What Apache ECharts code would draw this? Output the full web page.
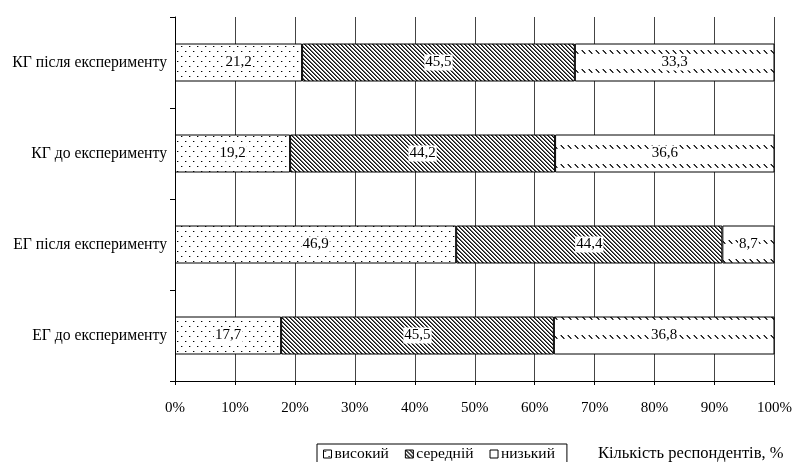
<!DOCTYPE html>
<html>
<head>
<meta charset="utf-8">
<script src="https://cdn.jsdelivr.net/npm/echarts@6/dist/echarts.min.js"></script>
<style>html,body{margin:0;padding:0;background:#fff}#c{width:795px;height:462px}</style>
</head>
<body>
<div id="c"></div>
<script>
const categories = ['ЕГ до експерименту', 'ЕГ після експерименту', 'КГ до експерименту', 'КГ після експерименту'];
const seriesNames = ['високий', 'середній', 'низький'];
const highValues = [17.7, 46.9, 19.2, 21.2];
const midValues = [45.5, 44.4, 44.2, 45.5];
const lowValues = [36.8, 8.7, 36.6, 33.3];
const xTicks = [0, 10, 20, 30, 40, 50, 60, 70, 80, 90, 100];
const axisTitle = 'Кількість респондентів, %';

function makeTile(w, h, draw) {
  const c = document.createElement('canvas');
  c.width = w; c.height = h;
  const ctx = c.getContext('2d');
  ctx.fillStyle = '#fff';
  ctx.fillRect(0, 0, w, h);
  draw(ctx);
  return { image: c, repeat: 'repeat' };
}
function px(ctx, x, y, col) { ctx.fillStyle = col; ctx.fillRect(x, y, 1, 1); }
const dotPattern = makeTile(8, 10, ctx => {
  px(ctx, 1, 1, '#000'); px(ctx, 2, 1, '#aaa');
  px(ctx, 5, 6, '#000'); px(ctx, 6, 6, '#aaa');
});
const stripePattern = makeTile(4, 4, ctx => {
  for (let y = 0; y < 4; y++) {
    px(ctx, y, y, '#111');
    px(ctx, (y + 1) % 4, y, '#666');
  }
});
const dashPattern = makeTile(7, 19, ctx => {
  const o = 12;
  [[0,0,'#888'],[1,0,'#222'],[1,1,'#444'],[2,1,'#222'],[2,2,'#444'],[3,2,'#222'],[3,3,'#444'],[4,3,'#777']]
    .forEach(p => px(ctx, p[0], o + p[1], p[2]));
});
const patterns = [dotPattern, stripePattern, dashPattern];
const valueSets = [highValues, midValues, lowValues];

const font = '"Liberation Serif", "Times New Roman", serif';
const chart = echarts.init(document.getElementById('c'), null, { renderer: 'canvas' });
chart.setOption({
  animation: false,
  backgroundColor: '#fff',
  textStyle: { fontFamily: font, color: '#000' },
  grid: { left: 175, right: 19, top: 17, bottom: 81, containLabel: false },
  xAxis: {
    type: 'value', min: 0, max: 100, interval: 10,
    axisLine: { show: true, lineStyle: { color: '#000', width: 1 } },
    axisTick: { show: true, length: 4, lineStyle: { color: '#000' } },
    splitLine: { show: true, lineStyle: { color: '#444', width: 1 } },
    axisLabel: { formatter: v => xTicks.includes(v) ? v + '%' : '', margin: 20, fontSize: 15, fontFamily: font, color: '#000' }
  },
  yAxis: {
    type: 'category', data: categories,
    axisLine: { show: true, lineStyle: { color: '#000', width: 1 } },
    axisTick: { show: true, length: 5, inside: false, lineStyle: { color: '#000' } },
    axisLabel: { margin: 8, fontSize: 15.7, fontFamily: font, color: '#000' }
  },
  legend: {
    data: seriesNames,
    left: 317, top: 444,
    orient: 'horizontal',
    icon: 'rect', itemWidth: 8, itemHeight: 8, itemGap: 16,
    padding: [2, 12, 4, 6],
    borderColor: '#000', borderWidth: 1,
    textStyle: { fontSize: 15.5, fontFamily: font, color: '#000', padding: [0, 0, 0, -2] },
    itemStyle: { borderColor: '#000', borderWidth: 1 }
  },
  graphic: [{
    type: 'text', left: 598, top: 445,
    style: { text: axisTitle, font: '16.5px ' + font, fill: '#000' }
  }],
  series: seriesNames.map((name, i) => ({
    name, type: 'bar', stack: 'total', barWidth: 38,
    data: valueSets[i],
    itemStyle: { color: patterns[i], borderColor: '#000', borderWidth: 1 },
    label: {
      show: true, position: 'inside',
      formatter: p => String(p.value).replace('.', ','),
      fontSize: 15, fontFamily: font, color: '#000',
      backgroundColor: '#fff', padding: [1, 1, 0, 1]
    },
    emphasis: { disabled: true }
  }))
});
</script>
</body>
</html>
